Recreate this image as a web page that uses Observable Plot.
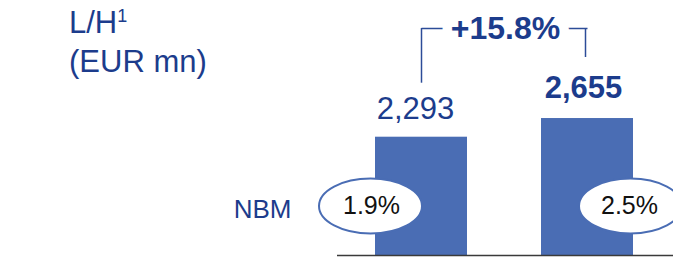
<!DOCTYPE html>
<html>
<head>
<meta charset="utf-8">
<script src="https://cdn.jsdelivr.net/npm/d3@7"></script>
<script src="https://cdn.jsdelivr.net/npm/@observablehq/plot@0.6"></script>
<style>
  html, body { margin: 0; padding: 0; background: #fff; }
  #wrap { position: relative; width: 673px; height: 260px; overflow: hidden; font-family: "Liberation Sans", Arial, sans-serif; }
  .t { position: absolute; left: 69px; color: #1c3c8c; font-size: 31px; line-height: 1; white-space: nowrap; }
  #t1 { top: 7px; }
  #t2 { top: 46px; }
  .t sup { font-size: 18px; line-height: 0; vertical-align: 0; position: relative; top: -11px; }
  svg { display: block; }
</style>
</head>
<body>
<div id="wrap">
  <div class="t" id="t1">L/H<sup>1</sup></div>
  <div class="t" id="t2">(EUR mn)</div>
</div>
<script>
const categories = ["H1 2023", "H1 2024"];
const values = [2293, 2655];
const valueLabels = ["2,293", "2,655"];
const nbm = [1.9, 2.5];
const nbmLabels = ["1.9%", "2.5%"];
const rowLabel = "NBM";
const growthLabel = "+15.8%";
const yMax = 4400;

const data = categories.map((c, i) => ({cat: c, value: values[i], label: valueLabels[i], nbm: nbm[i], nbmLabel: nbmLabels[i], bold: i === 1}));

const blueText = "#1c3c8c";
const barColor = "#4a6db4";
const bracketColor = "#2c4c98";

const rx = 51.5, ry = 27.5, k = 0.5523;
const ellipse = {
  draw(ctx) {
    ctx.moveTo(rx, 0);
    ctx.bezierCurveTo(rx, ry * k, rx * k, ry, 0, ry);
    ctx.bezierCurveTo(-rx * k, ry, -rx, ry * k, -rx, 0);
    ctx.bezierCurveTo(-rx, -ry * k, -rx * k, -ry, 0, -ry);
    ctx.bezierCurveTo(rx * k, -ry, rx, -ry * k, rx, 0);
    ctx.closePath();
  }
};

const font = "Liberation Sans, Arial, sans-serif";

const chart = Plot.plot({
  width: 673,
  height: 260,
  marginLeft: 337,
  marginRight: 0,
  marginTop: 28,
  marginBottom: 5,
  style: {fontFamily: font, background: "transparent", overflow: "visible"},
  x: {domain: categories, range: [374, 634], paddingInner: 0.443, paddingOuter: 0, axis: null},
  y: {domain: [0, yMax], axis: null},
  marks: [
    Plot.barY(data, {x: "cat", y: "value", fill: barColor}),
    Plot.ruleY([0], {stroke: "#3a3a3a", strokeWidth: 1.6}),
    // value labels
    Plot.text(data.filter(d => !d.bold), {x: "cat", y: "value", text: "label", dx: -6, dy: -18, lineAnchor: "bottom", fontSize: 31, fill: blueText}),
    Plot.text(data.filter(d => d.bold), {x: "cat", y: "value", text: "label", dx: -4, dy: -21, lineAnchor: "bottom", fontSize: 31, fontWeight: "bold", fill: blueText}),
    // growth bracket
    Plot.link([{a: categories[0], b: categories[1]}], {x1: "a", x2: "b", y1: () => yMax, y2: () => yMax, stroke: bracketColor, strokeWidth: 1.5}),
    Plot.ruleX(data.filter(d => !d.bold), {x: "cat", y1: () => yMax, y2: "value", insetBottom: 54, stroke: bracketColor, strokeWidth: 1.5}),
    Plot.ruleX(data.filter(d => d.bold), {x: "cat", y1: () => yMax, y2: "value", insetBottom: 61, dx: -2, stroke: bracketColor, strokeWidth: 1.5}),
    Plot.text([growthLabel], {frameAnchor: "top", text: d => d, lineAnchor: "middle", dy: 0, fontSize: 32, fontWeight: "bold", fill: blueText, stroke: "white", strokeWidth: 19, paintOrder: "stroke"}),
    // NBM row
    Plot.text([data[0]], {x: "cat", frameAnchor: "bottom", text: () => rowLabel, textAnchor: "end", dx: -130, dy: -38, fontSize: 26, fill: blueText}),
    Plot.dot([data[0]], {x: "cat", frameAnchor: "bottom", dx: -51, dy: -49.5, symbol: ellipse, fill: "white", stroke: barColor, strokeWidth: 2}),
    Plot.dot([data[1]], {x: "cat", frameAnchor: "bottom", dx: 43, dy: -49.5, symbol: ellipse, fill: "white", stroke: barColor, strokeWidth: 2}),
    Plot.text([data[0]], {x: "cat", frameAnchor: "bottom", text: "nbmLabel", dx: -50, dy: -49.5, lineAnchor: "middle", fontSize: 25, fill: "#111"}),
    Plot.text([data[1]], {x: "cat", frameAnchor: "bottom", text: "nbmLabel", dx: 42, dy: -49.5, lineAnchor: "middle", fontSize: 25, fill: "#111"})
  ]
});
document.getElementById("wrap").prepend(chart);
</script>
</body>
</html>
